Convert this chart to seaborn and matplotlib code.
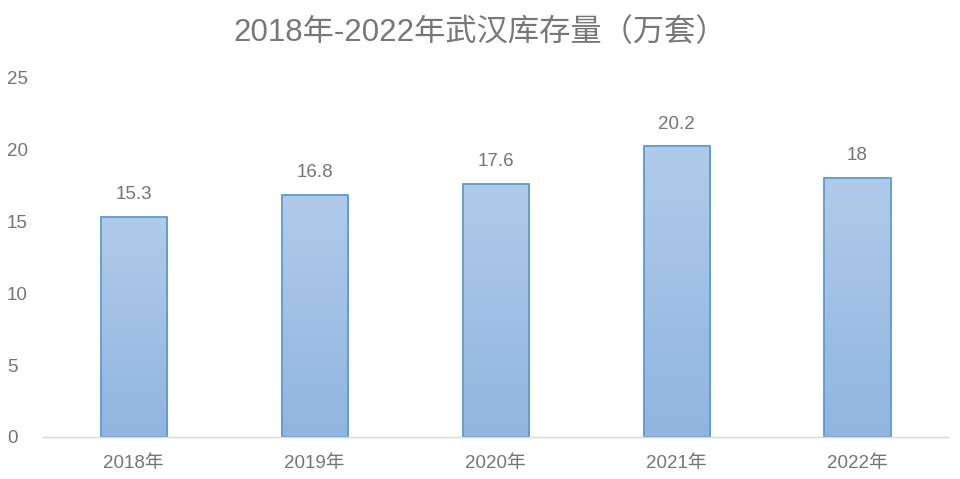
import numpy as np
import pandas as pd
import matplotlib
matplotlib.use("Agg")
import matplotlib.pyplot as plt
import seaborn as sns
from matplotlib.colors import LinearSegmentedColormap

years = ["2018年", "2019年", "2020年", "2021年", "2022年"]
values = [15.3, 16.8, 17.6, 20.2, 18]
yticks = [0, 5, 10, 15, 20, 25]
title = "2018年-2022年武汉库存量（万套）"

sns.set_theme(style="white")
plt.rcParams['font.family'] = ['Liberation Sans', 'Noto Sans CJK SC', 'DejaVu Sans']

df = pd.DataFrame({"year": years, "value": values})
fig = plt.figure(figsize=(9.6, 4.79), dpi=100)
ax = fig.add_axes([0.045, 0.0877, 0.9425, 0.7513])

sns.barplot(data=df, x="year", y="value", ax=ax, width=0.365,
            color="#a4c2e6", edgecolor="#5b9bd5", linewidth=1.3, saturation=1)

# gradient fill clipped to each bar
cmap = LinearSegmentedColormap.from_list("g", ["#90b5df", "#b0cbea"])
grad = np.linspace(0, 1, 256).reshape(-1, 1)
for p in ax.patches:
    x0, y0 = p.get_x(), p.get_y()
    w, h = p.get_width(), p.get_height()
    im = ax.imshow(grad, cmap=cmap, origin="lower", aspect="auto",
                   extent=[x0, x0 + w, y0, y0 + h], zorder=p.get_zorder() - 0.01)
    im.set_clip_path(p)
    p.set_facecolor("none")

ax.set_xlim(-0.5, 4.5)
ax.set_ylim(0, 25)
ax.set_yticks(yticks)
ax.set_yticklabels([str(t) for t in yticks])
for i, v in enumerate(values):
    ax.text(i, v + 0.95, f"{v:g}", ha="center", va="bottom", fontsize=13.5, color="#757575")

for s in ["top", "right", "left"]:
    ax.spines[s].set_visible(False)
ax.spines["bottom"].set_color("#d9d9d9")
ax.spines["bottom"].set_linewidth(1)
ax.tick_params(axis="both", length=0, labelsize=13.5, labelcolor="#757575")
ax.tick_params(axis="x", pad=13)
ax.tick_params(axis="y", pad=26)
for lbl in ax.get_yticklabels():
    lbl.set_horizontalalignment("left")
ax.set_xlabel("")
ax.set_ylabel("")
fig.text(0.5, 0.932, title, ha="center", va="center", fontsize=22.5, color="#777777")

fig.savefig("out.png", dpi=100)
